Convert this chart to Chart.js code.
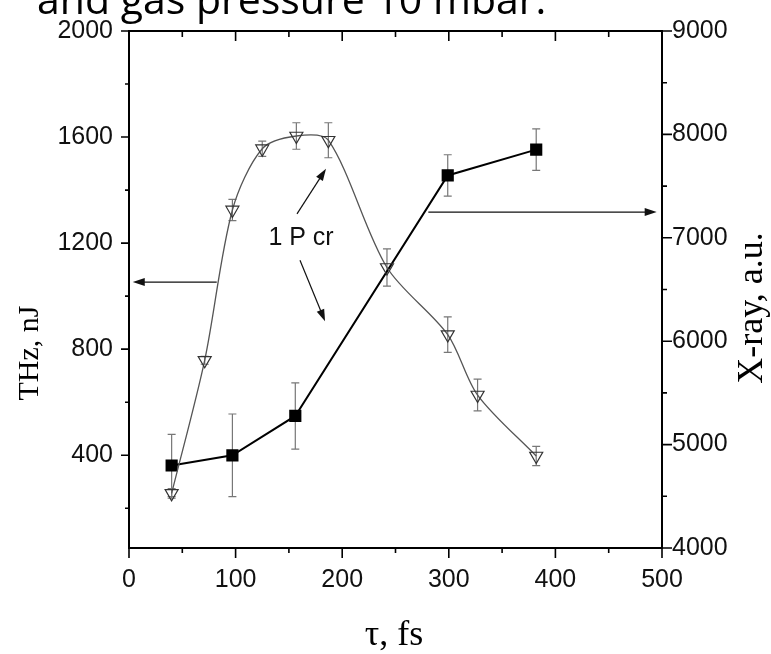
<!DOCTYPE html>
<html>
<head>
<meta charset="utf-8">
<title>THz and X-ray vs pulse duration</title>
<script src="https://cdn.jsdelivr.net/npm/chart.js@4.4.0/dist/chart.umd.min.js"></script>
<style>
  html, body { margin: 0; padding: 0; background: #fff; }
  #wrap { position: relative; width: 771px; height: 654px; }
</style>
</head>
<body>
<div id="wrap"><canvas id="chart"></canvas></div>
<script>
// THz energy (open triangles, left axis)
const tauTHz = [40, 71, 97, 125, 157, 187, 242, 299, 327, 382];
const thz = [256, 758, 1325, 1556, 1604, 1588, 1108, 855, 627, 397];
const thzErr = [18, 15, 40, 29, 50, 66, 70, 67, 60, 36];

// X-ray yield (filled squares, right axis)
const tauXray = [40, 97, 156, 299, 382];
const xray = [4798, 4896, 5277, 7603, 7853];
const xrayErr = [300, 400, 320, 200, 200];

// axis ticks
const xTicks = [0, 100, 200, 300, 400, 500];
const xMinor = [50, 150, 250, 350, 450];
const leftTicks = [400, 800, 1200, 1600, 2000];
const leftMinor = [200, 600, 1000, 1400, 1800];
const rightTicks = [4000, 5000, 6000, 7000, 8000, 9000];
const rightMinor = [4500, 5500, 6500, 7500, 8500];

const headerText = 'and gas pressure 10 mbar.';
const xTitle = 'τ, fs';
const leftTitle = 'THz, nJ';
const rightTitle = 'X-ray, a.u.';
const noteText = '1 P cr';

// annotation arrows in data units (x: fs, y: THz axis)
const arrows = [
  { from: [157.6, 1310], to: [184.8, 1480] },
  { from: [160.4, 1135], to: [183.9, 905] },
  { from: [82.3, 1053], to: [3.5, 1053] },
  { from: [280.8, 1317], to: [495, 1317] }
];
const notePos = [161.4, 1220];

const sans = '"Liberation Sans", Arial, sans-serif';
const serif = '"Liberation Serif", "Times New Roman", serif';
const tickFont = { family: sans, size: 25 };

function pointsOf(xs, ys) {
    return xs.map((x, i) => ({ x: x, y: ys[i] }));
}

function plainLabel(value) {
    return String(value);
}

function drawArrow(ctx, x1, y1, x2, y2) {
    const a = Math.atan2(y2 - y1, x2 - x1);
    const L = 12, W = 4;
    ctx.beginPath();
    ctx.moveTo(x1, y1);
    ctx.lineTo(x2 - L * 0.7 * Math.cos(a), y2 - L * 0.7 * Math.sin(a));
    ctx.stroke();
    ctx.beginPath();
    ctx.moveTo(x2, y2);
    ctx.lineTo(x2 - L * Math.cos(a) + W * Math.sin(a), y2 - L * Math.sin(a) - W * Math.cos(a));
    ctx.lineTo(x2 - L * Math.cos(a) - W * Math.sin(a), y2 - L * Math.sin(a) + W * Math.cos(a));
    ctx.closePath();
    ctx.fill();
}

const figurePlugin = {
    id: 'figure',
    beforeDatasetsDraw(chart) {
        const ctx = chart.ctx;
        ctx.save();
        chart.data.datasets.forEach((ds, i) => {
            const meta = chart.getDatasetMeta(i);
            const yScale = chart.scales[ds.yAxisID];
            ctx.strokeStyle = '#777';
            ctx.lineWidth = 1.2;
            ds.data.forEach((p, j) => {
                const e = ds.errors[j];
                const px = meta.data[j].x;
                const top = yScale.getPixelForValue(p.y + e);
                const bot = yScale.getPixelForValue(p.y - e);
                ctx.beginPath();
                ctx.moveTo(px, top); ctx.lineTo(px, bot);
                ctx.moveTo(px - 4, top); ctx.lineTo(px + 4, top);
                ctx.moveTo(px - 4, bot); ctx.lineTo(px + 4, bot);
                ctx.stroke();
            });
        });
        ctx.restore();
    },
    afterDraw(chart) {
        const ctx = chart.ctx;
        const { left, right, top, bottom } = chart.chartArea;
        const xs = chart.scales.x, yl = chart.scales.y, yr = chart.scales.y1;
        ctx.save();

        // frame
        ctx.strokeStyle = '#000';
        ctx.lineWidth = 2;
        ctx.beginPath();
        ctx.rect(left, top, right - left, bottom - top);
        ctx.stroke();

        // tick marks
        ctx.lineWidth = 1.6;
        ctx.beginPath();
        xTicks.forEach(v => {
            const p = xs.getPixelForValue(v);
            ctx.moveTo(p, bottom); ctx.lineTo(p, bottom + 10);
            ctx.moveTo(p, top); ctx.lineTo(p, top + 10);
        });
        xMinor.forEach(v => {
            const p = xs.getPixelForValue(v);
            ctx.moveTo(p, bottom); ctx.lineTo(p, bottom + 5);
            ctx.moveTo(p, top); ctx.lineTo(p, top + 6);
        });
        leftTicks.forEach(v => {
            const p = yl.getPixelForValue(v);
            ctx.moveTo(left, p); ctx.lineTo(left - 8, p);
        });
        leftMinor.forEach(v => {
            const p = yl.getPixelForValue(v);
            ctx.moveTo(left, p); ctx.lineTo(left - 4, p);
        });
        rightTicks.forEach(v => {
            const p = yr.getPixelForValue(v);
            ctx.moveTo(right, p); ctx.lineTo(right + 10, p);
        });
        rightMinor.forEach(v => {
            const p = yr.getPixelForValue(v);
            ctx.moveTo(right, p); ctx.lineTo(right + 5, p);
        });
        ctx.stroke();

        // arrows and note
        ctx.strokeStyle = '#111';
        ctx.fillStyle = '#111';
        ctx.lineWidth = 1.2;
        arrows.forEach(a => {
            drawArrow(ctx,
                xs.getPixelForValue(a.from[0]), yl.getPixelForValue(a.from[1]),
                xs.getPixelForValue(a.to[0]), yl.getPixelForValue(a.to[1]));
        });
        ctx.font = '25px ' + sans;
        ctx.textAlign = 'center';
        ctx.textBaseline = 'middle';
        ctx.fillText(noteText, xs.getPixelForValue(notePos[0]), yl.getPixelForValue(notePos[1]));

        // axis titles
        ctx.fillStyle = '#000';
        ctx.font = '36px ' + serif;
        ctx.fillText(xTitle, 394, 636);

        ctx.font = '30px ' + serif;
        ctx.save();
        ctx.translate(30, 353);
        ctx.rotate(-Math.PI / 2);
        ctx.fillText(leftTitle, 0, 0);
        ctx.restore();

        ctx.font = '36px ' + serif;
        ctx.save();
        ctx.translate(753, 308);
        ctx.rotate(-Math.PI / 2);
        ctx.fillText(rightTitle, 0, 0);
        ctx.restore();

        // clipped slide caption at the very top
        ctx.font = '41px "Open Sans", sans-serif';
        ctx.textAlign = 'left';
        ctx.textBaseline = 'alphabetic';
        ctx.fillText(headerText, 37, 14);

        ctx.restore();
    }
};

new Chart(document.getElementById('chart'), {
    type: 'scatter',
    data: {
        datasets: [{
            label: 'THz',
            data: pointsOf(tauTHz, thz),
            errors: thzErr,
            yAxisID: 'y',
            showLine: true,
            tension: 0.3,
            borderColor: '#555',
            borderWidth: 1.3,
            pointStyle: 'triangle',
            rotation: 180,
            pointRadius: 7.5,
            pointBorderColor: '#333',
            pointBorderWidth: 1.2,
            pointBackgroundColor: 'rgba(0,0,0,0)'
        }, {
            label: 'X-ray',
            data: pointsOf(tauXray, xray),
            errors: xrayErr,
            yAxisID: 'y1',
            showLine: true,
            tension: 0,
            borderColor: '#000',
            borderWidth: 2,
            pointStyle: 'rect',
            pointRadius: 7.2,
            pointBorderColor: '#000',
            pointBackgroundColor: '#000'
        }]
    },
    options: {
        responsive: true,
        maintainAspectRatio: false,
        animation: false,
        layout: { padding: { top: 22, left: 0, right: 0, bottom: 0 } },
        plugins: { legend: { display: false }, tooltip: { enabled: false } },
        scales: {
            x: {
                type: 'linear', min: 0, max: 500,
                afterBuildTicks: axis => { axis.ticks = xTicks.map(v => ({ value: v })); },
                afterFit: scale => { scale.height = 106; },
                grid: { display: false, drawTicks: false }, border: { display: false },
                ticks: { font: tickFont, color: '#111', padding: 17, maxRotation: 0, autoSkip: false, callback: plainLabel }
            },
            y: {
                position: 'left', min: 50, max: 2000,
                afterBuildTicks: axis => { axis.ticks = leftTicks.map(v => ({ value: v })); },
                afterFit: scale => { scale.width = 129; },
                grid: { display: false, drawTicks: false }, border: { display: false },
                ticks: { font: tickFont, color: '#111', padding: 16, autoSkip: false, callback: plainLabel }
            },
            y1: {
                position: 'right', min: 4000, max: 9000,
                afterBuildTicks: axis => { axis.ticks = rightTicks.map(v => ({ value: v })); },
                afterFit: scale => { scale.width = 109; },
                grid: { display: false, drawTicks: false }, border: { display: false },
                ticks: { font: tickFont, color: '#111', padding: 10, autoSkip: false, callback: plainLabel }
            }
        }
    },
    plugins: [figurePlugin]
});
</script>
</body>
</html>
